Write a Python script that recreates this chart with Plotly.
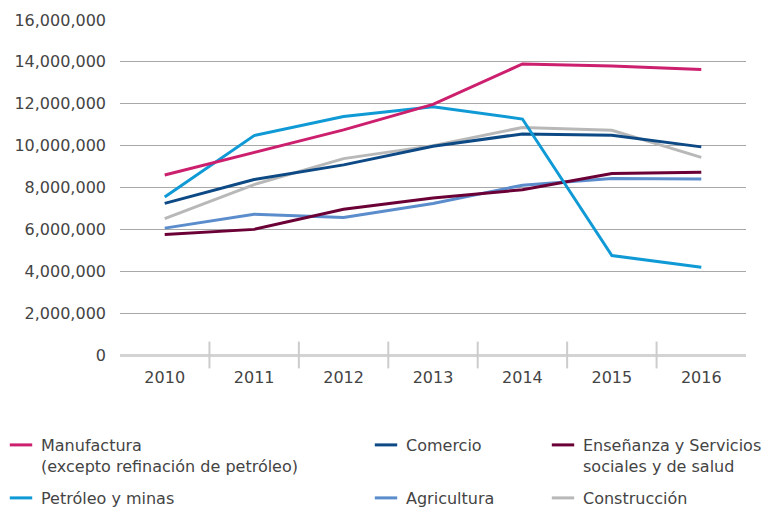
import plotly.graph_objects as go

years = ["2010", "2011", "2012", "2013", "2014", "2015", "2016"]

manufactura = [8600000, 9680000, 10750000, 11970000, 13900000, 13800000, 13630000]
petroleo = [7550000, 10480000, 11390000, 11860000, 11270000, 4750000, 4190000]
comercio = [7240000, 8380000, 9080000, 9970000, 10560000, 10500000, 9940000]
construccion = [6510000, 8140000, 9380000, 10000000, 10870000, 10730000, 9440000]
ensenanza = [5750000, 6000000, 6960000, 7500000, 7890000, 8670000, 8730000]
agricultura = [6060000, 6720000, 6570000, 7240000, 8110000, 8430000, 8410000]

yticks = [0, 2000000, 4000000, 6000000, 8000000, 10000000, 12000000, 14000000, 16000000]
ytick_text = ["0", "2,000,000", "4,000,000", "6,000,000", "8,000,000", "10,000,000",
              "12,000,000", "14,000,000", "16,000,000"]

series = [
    ("Manufactura<br>(excepto refinación de petróleo)", manufactura, "#cc1f6e"),
    ("Comercio", comercio, "#0d4a85"),
    ("Enseñanza y Servicios<br>sociales y de salud", ensenanza, "#6b0036"),
    ("Petróleo y minas", petroleo, "#0f9ad6"),
    ("Agricultura", agricultura, "#5b8ccc"),
    ("Construcción", construccion, "#b8b8b8"),
]

FONT = "DejaVu Sans"
TXT = "#444444"
FS = 16

draw_order = [5, 4, 2, 1, 3, 0]

fig = go.Figure()
for i in draw_order:
    name, vals, color = series[i]
    fig.add_trace(go.Scatter(x=years, y=vals, mode="lines", name=name.replace("<br>", " "),
                             line=dict(color=color, width=3), showlegend=False))

W, H = 763, 499
ML, MR, MT, MB = 112, 25, 12, 152
PW, PH = W - ML - MR, H - MT - MB
leg_pos = [(-7, 420), (358, 420), (535, 420), (-7, 473), (358, 473), (535, 473)]
for i, (name, vals, color) in enumerate(series):
    lname = "legend" if i == 0 else f"legend{i+1}"
    fig.add_trace(go.Scatter(x=[years[0]], y=[None], mode="markers", name=name,
                             marker=dict(symbol="line-ew-open", size=20, color=color,
                                         line=dict(color=color, width=3)),
                             legend=lname, showlegend=True, hoverinfo="skip"))
    px, py = leg_pos[i]
    fig.update_layout(**{lname: dict(x=(px - ML) / PW, y=(MT + PH - py) / PH,
                                     xref="paper", yref="paper",
                                     xanchor="left", yanchor="top", valign="top",
                                     bgcolor="rgba(0,0,0,0)", borderwidth=0,
                                     font=dict(family=FONT, size=FS, color=TXT),
                                     itemwidth=30, tracegroupgap=0)})

for k in range(len(years) - 1):
    fig.add_shape(type="line", xref="x", yref="paper", x0=k + 0.5, x1=k + 0.5,
                  y0=-0.04, y1=0.04, line=dict(color="#cccccc", width=2))

fig.update_layout(
    width=W, height=H,
    margin=dict(l=ML, r=MR, t=MT, b=MB, autoexpand=False),
    paper_bgcolor="white", plot_bgcolor="white",
    font=dict(family=FONT, size=FS, color=TXT),
    xaxis=dict(type="category", categoryarray=years, range=[-0.5, 6.5], showgrid=False,
               zeroline=False, showline=False, ticks="", ticklabelstandoff=11,
               tickangle=0, automargin=False,
               tickfont=dict(family=FONT, size=FS, color=TXT)),
    yaxis=dict(range=[0, 16000000], tickvals=yticks, ticktext=ytick_text,
               showgrid=True, gridcolor="#a8a8a8", gridwidth=1,
               zeroline=True, zerolinecolor="#d3d3d3", zerolinewidth=3,
               showline=False, ticks="", ticklabelstandoff=13, automargin=False,
               tickfont=dict(family=FONT, size=FS, color=TXT)),
)

fig.write_html("out.html")
